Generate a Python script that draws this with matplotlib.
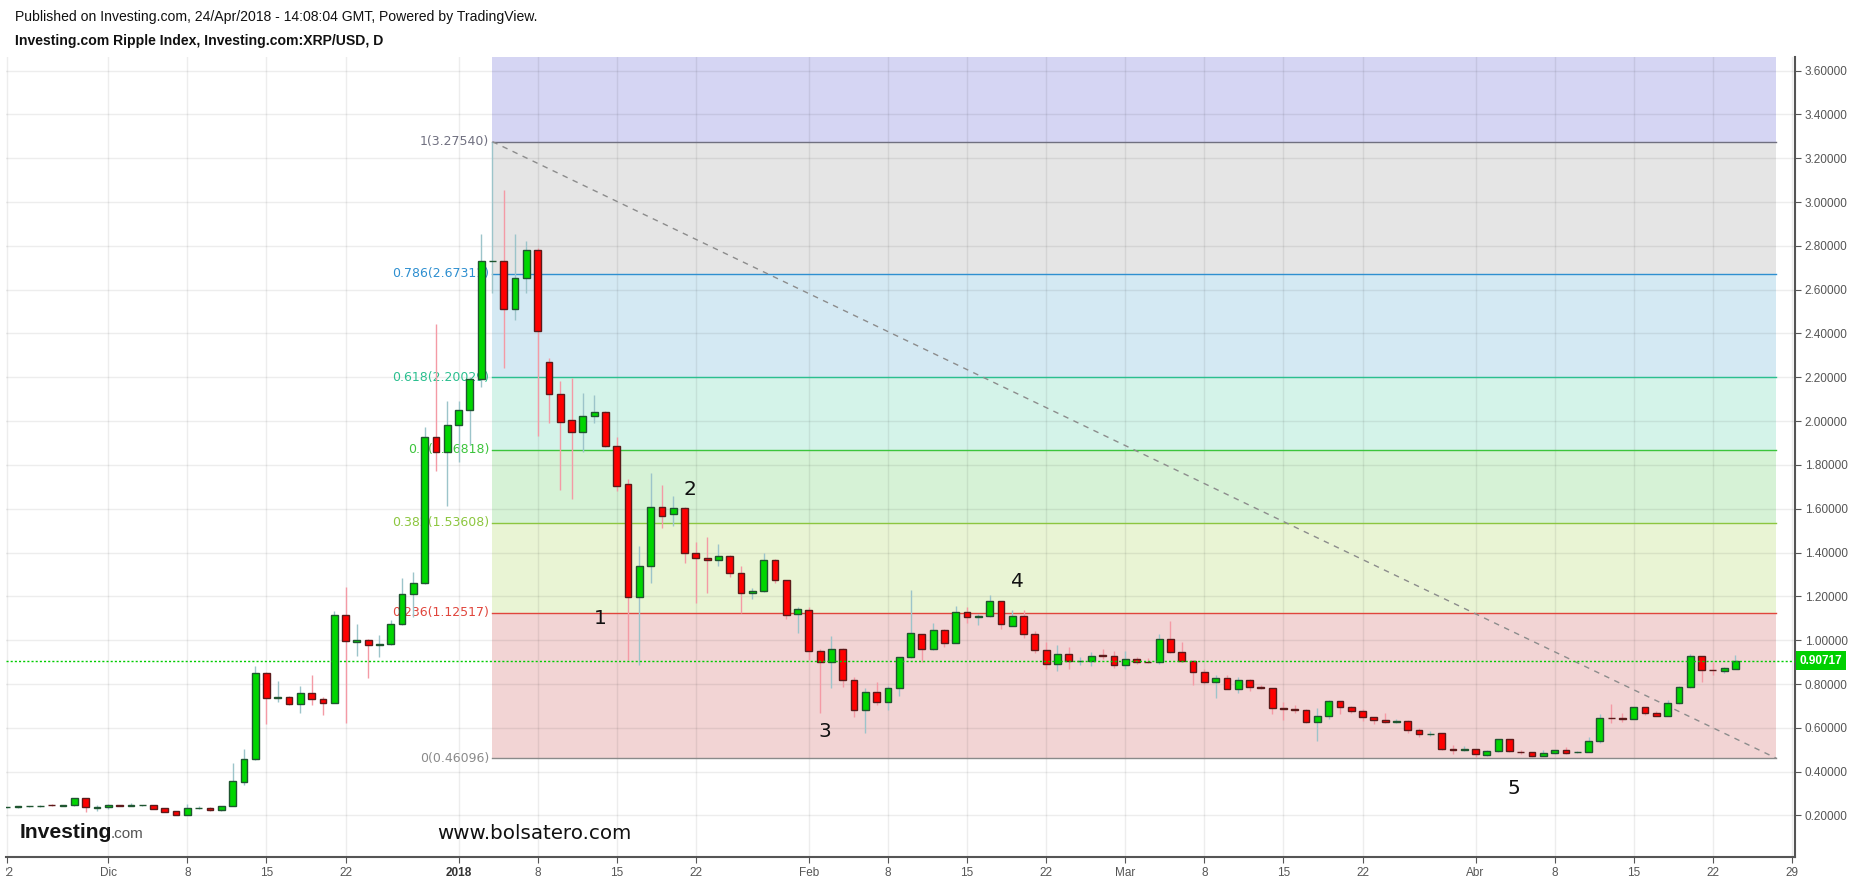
import matplotlib
matplotlib.use("Agg")
import matplotlib.pyplot as plt
import matplotlib.dates as mdates
from matplotlib.transforms import blended_transform_factory, Bbox, TransformedBbox
import numpy as np
import pandas as pd

# daily XRP/USD candles from 22 Nov 2017 to 24 Apr 2018
first_day = "2017-11-22"
opens = [
    0.237, 0.238, 0.241, 0.242, 0.249, 0.245, 0.246, 0.278, 0.236,
    0.237, 0.247, 0.245, 0.246, 0.246, 0.232, 0.220, 0.203, 0.232, 0.235, 0.223, 0.244, 0.355, 0.456, 0.849, 0.738,
    0.739, 0.710, 0.758, 0.733, 0.715, 1.116, 0.993, 1.000, 0.978, 0.982, 1.073, 1.209, 1.260, 1.929, 1.860,
    1.981, 2.049, 2.191, 2.729, 2.729, 2.510, 2.652, 2.780, 2.268, 2.122, 2.003, 1.949, 2.022, 2.040, 1.886, 1.712,
    1.198, 1.340, 1.606, 1.575, 1.602, 1.397, 1.376, 1.366, 1.383, 1.308, 1.214, 1.223, 1.365, 1.273, 1.118,
    1.136, 0.949, 0.899, 0.958, 0.818, 0.681, 0.762, 0.716, 0.780, 0.922, 1.027, 0.961, 1.045, 0.986, 1.127, 1.107,
    1.110, 1.177, 1.066, 1.109, 1.027, 0.954, 0.890, 0.938, 0.903, 0.904, 0.932, 0.929,
    0.885, 0.916, 0.901, 0.899, 1.004, 0.945, 0.904, 0.853, 0.808, 0.826, 0.776, 0.817, 0.787, 0.780, 0.691, 0.686,
    0.681, 0.628, 0.653, 0.721, 0.696, 0.676, 0.651, 0.637, 0.628, 0.630, 0.589, 0.571, 0.575, 0.503, 0.501,
    0.502, 0.477, 0.493, 0.548, 0.492, 0.489, 0.473, 0.484, 0.497, 0.489, 0.491, 0.539, 0.645, 0.643, 0.640, 0.694,
    0.666, 0.656, 0.712, 0.785, 0.926, 0.864, 0.860, 0.869,
]
highs = [
    0.240, 0.245, 0.244, 0.247, 0.251, 0.248, 0.280, 0.280, 0.246,
    0.252, 0.250, 0.259, 0.249, 0.248, 0.234, 0.221, 0.252, 0.242, 0.238, 0.244, 0.438, 0.502, 0.882, 0.856,
    0.814, 0.745, 0.792, 0.841, 0.740, 1.133, 1.241, 1.074, 1.005, 1.024, 1.093, 1.282, 1.310, 1.974, 2.443, 2.092,
    2.092, 2.200, 2.854, 3.2754, 3.055, 2.854, 2.822, 2.790, 2.287, 2.183, 2.198, 2.128, 2.120, 2.045, 1.929, 1.734,
    1.430, 1.764, 1.710, 1.658, 1.606, 1.447, 1.470, 1.440, 1.390, 1.338, 1.240, 1.397, 1.370, 1.275, 1.153,
    1.150, 0.960, 1.021, 0.963, 0.830, 0.783, 0.810, 0.790, 0.922, 1.229, 1.030, 1.080, 1.050, 1.156, 1.150, 1.120,
    1.206, 1.180, 1.140, 1.140, 1.040, 0.990, 0.980, 0.970, 0.925, 0.945, 0.960, 0.950,
    0.950, 0.925, 0.920, 1.030, 1.088, 0.990, 0.910, 0.870, 0.840, 0.840, 0.830, 0.825, 0.795, 0.780, 0.720, 0.705,
    0.685, 0.690, 0.725, 0.721, 0.700, 0.685, 0.651, 0.666, 0.640, 0.635, 0.598, 0.587, 0.575, 0.523, 0.518,
    0.505, 0.500, 0.550, 0.550, 0.497, 0.492, 0.497, 0.498, 0.512, 0.493, 0.556, 0.665, 0.710, 0.666, 0.696, 0.697,
    0.675, 0.726, 0.791, 0.935, 0.926, 0.900, 0.878, 0.932,
]
lows = [
    0.235, 0.236, 0.238, 0.240, 0.244, 0.243, 0.244, 0.217, 0.222,
    0.228, 0.242, 0.243, 0.244, 0.229, 0.214, 0.201, 0.201, 0.228, 0.221, 0.221, 0.243, 0.339, 0.455, 0.618,
    0.719, 0.705, 0.669, 0.704, 0.659, 0.713, 0.623, 0.929, 0.829, 0.925, 0.978, 1.070, 1.104, 1.255, 1.774, 1.613,
    1.815, 1.891, 2.154, 2.586, 2.244, 2.461, 2.586, 1.932, 1.993, 1.685, 1.644, 1.860, 1.990, 1.880, 1.682, 0.910,
    0.887, 1.262, 1.510, 1.521, 1.354, 1.171, 1.217, 1.340, 1.290, 1.125, 1.190, 1.220, 1.260, 1.095, 1.031,
    0.910, 0.669, 0.783, 0.788, 0.651, 0.578, 0.705, 0.680, 0.745, 0.920, 0.899, 0.955, 0.970, 0.986, 1.080, 1.070,
    1.105, 1.050, 1.066, 1.010, 0.940, 0.867, 0.860, 0.870, 0.885, 0.880, 0.915, 0.875,
    0.870, 0.890, 0.895, 0.890, 0.940, 0.900, 0.795, 0.800, 0.738, 0.776, 0.760, 0.770, 0.778, 0.662, 0.636, 0.670,
    0.620, 0.541, 0.640, 0.665, 0.668, 0.630, 0.616, 0.620, 0.620, 0.578, 0.560, 0.565, 0.500, 0.480, 0.495,
    0.465, 0.472, 0.490, 0.490, 0.481, 0.466, 0.471, 0.482, 0.482, 0.485, 0.491, 0.533, 0.620, 0.628, 0.640, 0.657,
    0.656, 0.656, 0.710, 0.780, 0.811, 0.840, 0.850, 0.869,
]
closes = [
    0.238, 0.241, 0.242, 0.245, 0.246, 0.247, 0.278, 0.237, 0.238,
    0.247, 0.245, 0.247, 0.247, 0.231, 0.217, 0.203, 0.232, 0.235, 0.223, 0.241, 0.356, 0.456, 0.849, 0.738,
    0.740, 0.710, 0.758, 0.733, 0.715, 1.116, 0.998, 1.003, 0.977, 0.982, 1.073, 1.209, 1.260, 1.929, 1.860, 1.981,
    2.049, 2.191, 2.729, 2.733, 2.510, 2.652, 2.780, 2.410, 2.122, 1.997, 1.949, 2.022, 2.040, 1.886, 1.705, 1.198,
    1.340, 1.606, 1.568, 1.602, 1.397, 1.374, 1.366, 1.383, 1.308, 1.214, 1.223, 1.365, 1.273, 1.114, 1.141,
    0.949, 0.899, 0.958, 0.818, 0.681, 0.762, 0.719, 0.780, 0.922, 1.031, 0.961, 1.045, 0.986, 1.127, 1.107, 1.110,
    1.177, 1.072, 1.109, 1.027, 0.954, 0.890, 0.938, 0.904, 0.906, 0.929, 0.929, 0.885,
    0.916, 0.899, 0.899, 1.004, 0.945, 0.904, 0.853, 0.808, 0.826, 0.776, 0.817, 0.785, 0.784, 0.689, 0.688, 0.683,
    0.628, 0.653, 0.721, 0.696, 0.676, 0.651, 0.637, 0.625, 0.631, 0.589, 0.570, 0.573, 0.502, 0.501, 0.503,
    0.481, 0.493, 0.548, 0.493, 0.490, 0.473, 0.484, 0.497, 0.487, 0.491, 0.539, 0.644, 0.643, 0.640, 0.694, 0.666,
    0.656, 0.712, 0.785, 0.926, 0.865, 0.862, 0.873, 0.90717,
]
last_price = 0.90717

# fibonacci retracement drawn from the 4 Jan high down to the late April low
fib_start = "2018-01-04"
fib_end = "2018-04-27 15:00"
fib_ratios = [0, 0.236, 0.382, 0.5, 0.618, 0.786, 1]
fib_prices = [0.46096, 1.12517, 1.53608, 1.86818, 2.20029, 2.67311, 3.27540]
fib_line_colors = ["#8a8a8a", "#e0453c", "#8cc63f", "#3cc43c", "#2bbf8f", "#2e8fd0", "#707080"]
fib_fill_colors = ["#f2d4d4", "#e9f4d4", "#d6f2d6", "#d4f3e9", "#d4e9f3", "#e5e5e5", "#d5d5f3"]

# wave count labels
wave_labels = ["1", "2", "3", "4", "5"]
wave_dates = ["2018-01-13 12:00", "2018-01-21 12:00", "2018-02-02 10:00", "2018-02-19 10:00", "2018-04-04 10:00"]
wave_prices = [1.10, 1.686, 0.582, 1.267, 0.324]

tick_dates = ["2017-11-22", "2017-12-01", "2017-12-08", "2017-12-15", "2017-12-22", "2018-01-01",
              "2018-01-08", "2018-01-15", "2018-01-22", "2018-02-01", "2018-02-08", "2018-02-15",
              "2018-02-22", "2018-03-01", "2018-03-08", "2018-03-15", "2018-03-22", "2018-04-01",
              "2018-04-08", "2018-04-15", "2018-04-22", "2018-04-29"]
tick_labels = ["22", "Dic", "8", "15", "22", "2018", "8", "15", "22", "Feb", "8", "15", "22",
               "Mar", "8", "15", "22", "Abr", "8", "15", "22", "29"]
price_ticks = [0.2, 0.4, 0.6, 0.8, 1.0, 1.2, 1.4, 1.6, 1.8, 2.0, 2.2, 2.4, 2.6, 2.8, 3.0, 3.2, 3.4, 3.6]

W, H = 1853, 880
fig = plt.figure(figsize=(W / 100, H / 100), dpi=100)
ax = fig.add_axes([6 / W, 23 / H, 1789 / W, 800 / H])

dates = pd.date_range(first_day, periods=len(opens), freq="D")
x = mdates.date2num(dates)
o = np.array(opens)
hi = np.array(highs)
lo = np.array(lows)
c = np.array(closes)
up = c >= o

# candles
ax.vlines(x[up], lo[up], hi[up], color="#9cc4ca", lw=1.0, zorder=4)
ax.vlines(x[~up], lo[~up], hi[~up], color="#f49aa5", lw=1.0, zorder=4)
body_bottom = np.minimum(o, c)
body_h = np.maximum(np.abs(c - o), 0.002)
ax.bar(x[up], body_h[up], bottom=body_bottom[up], width=0.6, color="#00d600",
       edgecolor="#1f5530", lw=1.0, zorder=5)
ax.bar(x[~up], body_h[~up], bottom=body_bottom[~up], width=0.6, color="#ff0000",
       edgecolor="#5c1a1a", lw=1.0, zorder=5)

# fibonacci zones, levels and labels
xs = mdates.date2num(pd.Timestamp(fib_start))
xe = mdates.date2num(pd.Timestamp(fib_end))
span = fib_prices[-1] - fib_prices[0]
zone_edges = fib_prices + [fib_prices[-1] + 0.618 * span]
for i in range(len(zone_edges) - 1):
    ax.fill_between([xs, xe], zone_edges[i], zone_edges[i + 1], color=fib_fill_colors[i], lw=0, zorder=1)
for r, p, col in zip(fib_ratios, fib_prices, fib_line_colors):
    ax.plot([xs, xe], [p, p], color=col, lw=1.0, zorder=2)
    ax.annotate(f"{r:g}({p:.5f})", xy=(xs, p), xytext=(-2.5, 0), textcoords="offset points",
                ha="right", va="center", color=col, fontsize=9, family="DejaVu Sans", zorder=3)
ax.plot([xs, xe], [fib_prices[-1], fib_prices[0]], color="#8c8c8c", lw=1.0, ls=(0, (4, 4)), zorder=2)

# last price line and tag
ax.axhline(last_price, color="#00cc00", lw=1.0, ls=(0, (1.5, 1.5)), zorder=6)
tr = blended_transform_factory(ax.transAxes, ax.transData)
ax.text(1.0 + 5 / 1789, last_price, f"{last_price:.5f}", transform=tr, ha="left", va="center",
        color="white", fontsize=8.5, fontweight="bold", family="Liberation Sans", clip_on=False, zorder=7,
        bbox=dict(boxstyle="square,pad=0.3", fc="#00d000", ec="none"))

for lab, d, p in zip(wave_labels, wave_dates, wave_prices):
    ax.text(mdates.date2num(pd.Timestamp(d)), p, lab, ha="center", va="center", fontsize=14.5,
            family="DejaVu Sans", color="#111111", zorder=8)

# axes
dec1 = mdates.date2num(pd.Timestamp("2017-12-01"))
ax.set_xlim(dec1 - 9.053, dec1 + 149.27)
ax.set_ylim(0.0105, 3.6618)
ax.yaxis.tick_right()
ax.set_yticks(price_ticks)
ax.set_yticklabels([f"{v:.5f}" for v in price_ticks])
ax.set_xticks(mdates.date2num(pd.to_datetime(tick_dates)))
ax.set_xticklabels(tick_labels)
ax.tick_params(axis="both", direction="out", length=4, color="#555555", labelcolor="#555555",
               labelsize=8.5, pad=3)
# labels are cut at the pane's left edge, as in the original
pane_clip = TransformedBbox(Bbox([[6 / W, 0], [1, 1]]), fig.transFigure)
for t in ax.get_xticklabels():
    if t.get_text() == "2018":
        t.set_fontweight("bold")
        t.set_color("#333333")
    t.set_clip_box(pane_clip)
    t.set_clip_on(True)
for t in ax.get_xticklabels() + ax.get_yticklabels():
    t.set_family("Liberation Sans")
for s in ["top", "left"]:
    ax.spines[s].set_visible(False)
for s in ["right", "bottom"]:
    ax.spines[s].set_color("#555555")
    ax.spines[s].set_linewidth(1.5)
ax.grid(True, color="#000000", alpha=0.07, lw=1.0)
ax.set_axisbelow("line")

# header, logo, watermark
fig.text(15 / W, 1 - 17 / H, "Published on Investing.com, 24/Apr/2018 - 14:08:04 GMT, Powered by TradingView.",
         va="center", fontsize=10.1, family="Liberation Sans", color="#111111")
fig.text(15 / W, 1 - 40.5 / H, "Investing.com Ripple Index, Investing.com:XRP/USD, D",
         va="center", fontsize=10.1, fontweight="bold", family="Liberation Sans", color="#111111")
fig.text(20 / W, 1 - 838 / H, "Investing", va="baseline", fontsize=15.2, fontweight="bold",
         family="Liberation Sans", color="#141414")
fig.text(111 / W, 1 - 838 / H, ".com", va="baseline", fontsize=11, family="Liberation Sans", color="#555555")
fig.text(534.5 / W, 1 - 833 / H, "www.bolsatero.com", ha="center", va="center", fontsize=14.3,
         family="DejaVu Sans", color="#111111")

fig.savefig("out.png", dpi=100, facecolor="white")
